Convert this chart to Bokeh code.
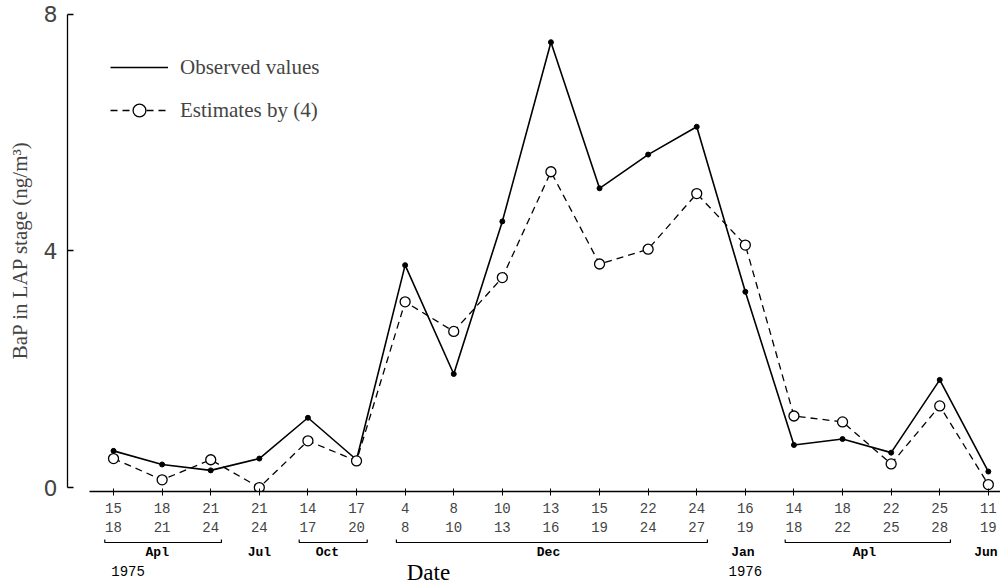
from bokeh.plotting import figure
from bokeh.layouts import column
from bokeh.models import Range1d, FixedTicker, LinearAxis, Legend, LegendItem
from bokeh.core.properties import value
from bokeh.embed import file_html
from bokeh.resources import INLINE

# ---- data ----
start_days = ["15", "18", "21", "21", "14", "17", "4", "8", "10", "13",
              "15", "22", "24", "16", "14", "18", "22", "25", "11"]
end_days = ["18", "21", "24", "24", "17", "20", "8", "10", "13", "16",
            "19", "24", "27", "19", "18", "22", "25", "28", "19"]
observed = [0.62, 0.39, 0.29, 0.49, 1.18, 0.47, 3.76, 1.92, 4.50, 7.53,
            5.06, 5.63, 6.10, 3.31, 0.72, 0.82, 0.59, 1.82, 0.27]
estimates = [0.49, 0.13, 0.47, 0.00, 0.79, 0.45, 3.14, 2.64, 3.55, 5.34,
             3.78, 4.03, 4.97, 4.10, 1.21, 1.11, 0.40, 1.38, 0.05]
months = ["Apl", "Jul", "Oct", "Dec", "Jan", "Apl", "Jun"]
month_pos = [0.9, 3.0, 4.4, 8.95, 12.95, 15.45, 17.95]
bracket_first = [0, 4, 6, 14]
bracket_last = [2, 5, 12, 17]
years = ["1975", "1976"]
year_pos = [0.3, 13.0]
y_ticks = [0, 4, 8]

idx = list(range(len(observed)))

# ---- layout constants ----
W = 1000
LEFT = 67
X_RANGE = (-0.947, 18.25)
MONTH_Y = -1.04
BRACKET_Y = -0.874
HOOK_Y = -0.822
YEAR_Y = -1.36
DATE_Y = -1.38

p = figure(width=W, height=538, output_backend="svg", toolbar_location=None,
           x_range=Range1d(*X_RANGE), y_range=Range1d(-0.067, 8.1),
           x_axis_location=None, y_axis_location=None,
           min_border_left=LEFT, min_border_right=0, min_border_top=8,
           min_border_bottom=44)
p.xgrid.visible = False
p.ygrid.visible = False
p.outline_line_color = None

# y axis
yaxis = LinearAxis(ticker=FixedTicker(ticks=y_ticks), bounds=(0, 8),
                   major_tick_in=6, major_tick_out=0,
                   minor_tick_line_color=None,
                   axis_line_color="black", axis_line_width=1.3,
                   major_tick_line_width=1.3,
                   major_label_text_font="DejaVu Sans",
                   major_label_text_font_size="22px",
                   major_label_standoff=10,
                   axis_label="BaP in LAP stage (ng/m³)",
                   axis_label_text_font="Liberation Serif",
                   axis_label_text_font_size="21px",
                   axis_label_text_font_style="normal",
                   axis_label_standoff=9)
p.add_layout(yaxis, "left")

# x axis
xaxis = LinearAxis(ticker=FixedTicker(ticks=idx), bounds=(-0.5, X_RANGE[1]),
                   major_tick_in=3, major_tick_out=4,
                   minor_tick_line_color=None,
                   axis_line_color="black", axis_line_width=1.3,
                   major_label_overrides={i: f"{s}\n{e}" for i, s, e in zip(idx, start_days, end_days)},
                   major_label_text_font="Liberation Mono",
                   major_label_text_font_size="14px",
                   major_label_standoff=5)
p.add_layout(xaxis, "below")

# series
obs_line = p.line(idx, observed, line_color="black", line_width=1.6)
p.scatter(idx, observed, size=5, fill_color="black", line_color="black")
est_line = p.line(idx, estimates, line_color="black", line_width=1.3, line_dash="7 5")
est_pts = p.scatter(idx, estimates, size=10, fill_color="white", line_color="black", line_width=1.3)

legend = Legend(items=[LegendItem(label="Observed values", renderers=[obs_line]),
                       LegendItem(label="Estimates by (4)", renderers=[est_line, est_pts])],
                location="top_left", margin=43, padding=10, spacing=11,
                glyph_width=58, glyph_height=32, label_height=32,
                label_standoff=12, border_line_color=None,
                background_fill_alpha=0,
                label_text_font="Liberation Serif", label_text_font_size="21px")
p.add_layout(legend)

# ---- lower strip: month brackets, months, years, "Date" ----
q = figure(width=W, height=46, output_backend="svg", toolbar_location=None,
           x_range=p.x_range, y_range=Range1d(-1.58, -0.807),
           x_axis_location=None, y_axis_location=None,
           min_border_left=LEFT, min_border_right=0, min_border_top=0,
           min_border_bottom=0)
q.xgrid.visible = False
q.ygrid.visible = False
q.outline_line_color = None

xs, ys = [], []
for a, b in zip(bracket_first, bracket_last):
    xa, xb = a - 0.18, b + 0.22
    xs.append([xa, xa, xb, xb])
    ys.append([HOOK_Y, BRACKET_Y, BRACKET_Y, HOOK_Y])
q.multi_line(xs, ys, line_color="black", line_width=1.2)

q.text(month_pos, [MONTH_Y] * len(months), text=months,
       text_align="center", text_baseline="middle",
       text_font=value("Liberation Mono"), text_font_size="13px",
       text_font_style="bold", text_color="black")
q.text(year_pos, [YEAR_Y] * len(years), text=years,
       text_align="center", text_baseline="middle",
       text_font=value("Liberation Mono"), text_font_size="14px", text_color="black")
q.text([6.48], [DATE_Y], text=["Date"], text_align="center", text_baseline="middle",
       text_font=value("Liberation Serif"), text_font_size="23px", text_color="black")

layout = column(p, q, spacing=0)
open("out.html", "w").write(file_html(layout, INLINE))
